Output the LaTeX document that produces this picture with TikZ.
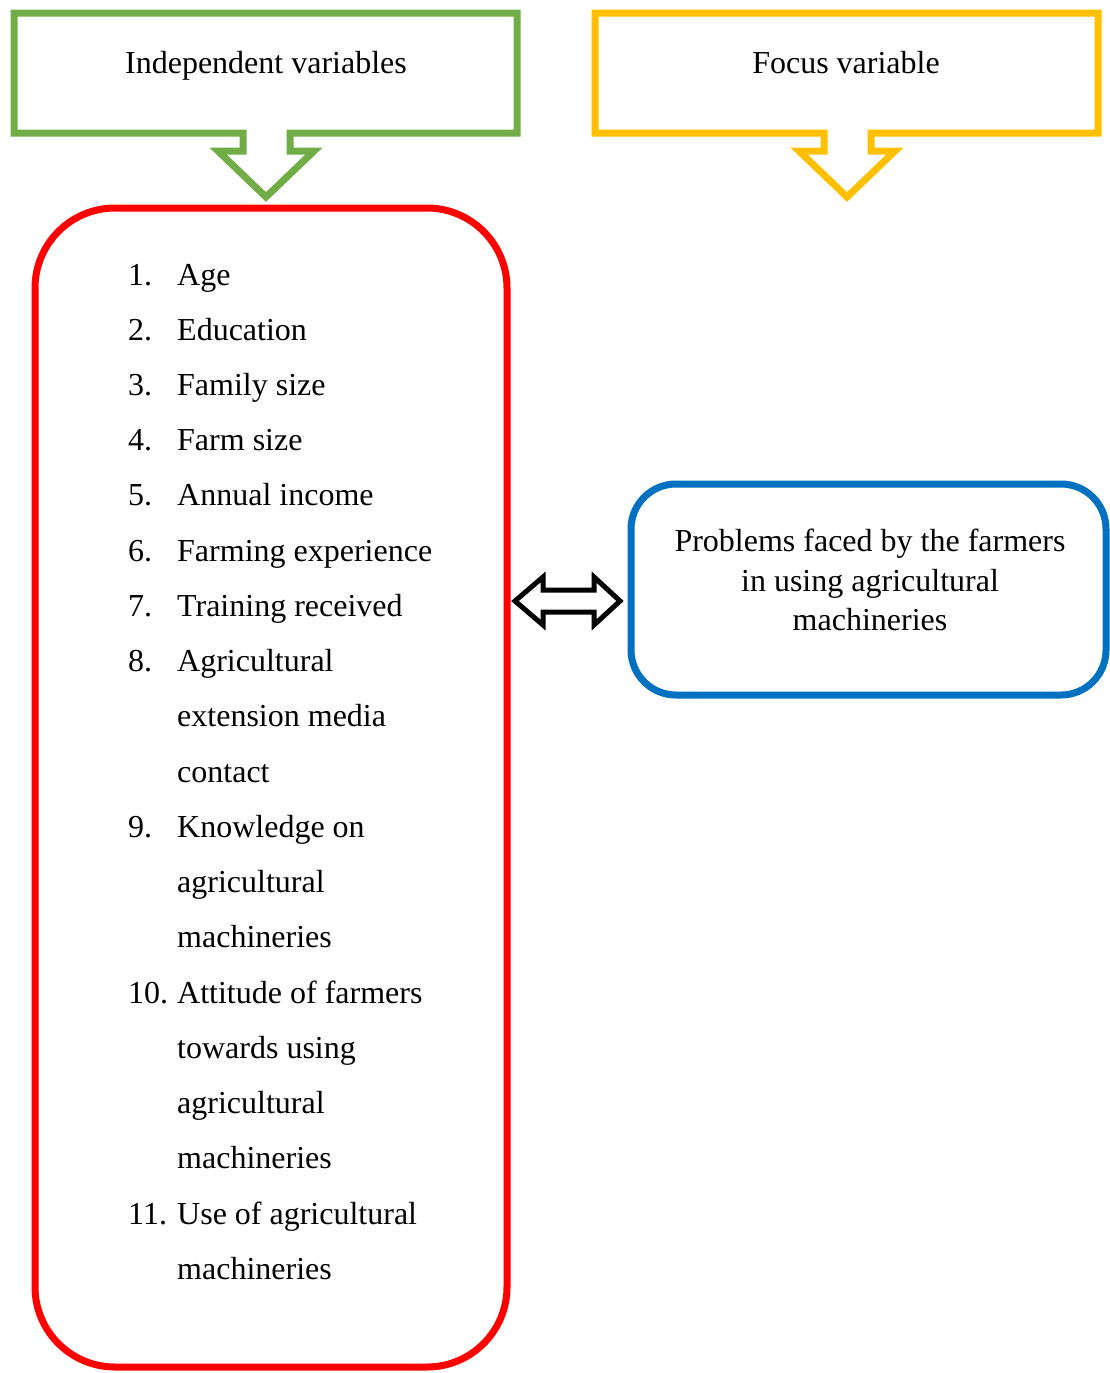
\documentclass[tikz,border=0pt]{standalone}
\usepackage{fontspec}
\setmainfont{Liberation Serif}
\definecolor{cgreen}{HTML}{70AD47}
\definecolor{cyellow}{HTML}{FFC000}
\definecolor{cred}{HTML}{FF0000}
\definecolor{cblue}{HTML}{0070C0}
\begin{document}
\begin{tikzpicture}[x=1pt,y=-1pt,
  lbl/.style={font=\fontsize{32}{39.5}\selectfont, inner sep=0pt, text=black},
  itm/.style={lbl, anchor=base west},
  callout/.style={line width=7pt, miter limit=10},
  bigbox/.style={line width=7pt}]
\useasboundingbox (0,0) rectangle (1110,1373);

% callouts
\draw[callout, draw=cgreen] (14,13) -- (517,13) -- (517,133) -- (290,133) -- (290,151) -- (314,151) -- (266,197) -- (218,151) -- (243,151) -- (243,133) -- (14,133) -- cycle;
\node[lbl, anchor=base] (iv) at (266,73) {Independent variables};

\draw[callout, draw=cyellow] (595,13) -- (1098,13) -- (1098,133) -- (871,133) -- (871,151) -- (895,151) -- (847,197) -- (799,151) -- (824,151) -- (824,133) -- (595,133) -- cycle;
\node[lbl, anchor=base] (fv) at (846,73) {Focus variable};

% boxes
\node[draw=cred, bigbox, rounded corners=80pt, minimum width=472pt, minimum height=1159pt, inner sep=0pt] (box) at (271,787.5) {};
\node[draw=cblue, bigbox, rounded corners=45pt, minimum width=475pt, minimum height=211pt, inner sep=0pt] (prob) at (868.5,589.5) {};
\node[lbl, align=center] (probtxt) at (870,580) {Problems faced by the farmers\\in using agricultural\\machineries};

% double arrow
\coordinate (dl) at (515,601);
\coordinate (dr) at (620,601);
\draw[line width=5pt, fill=white, miter limit=10]
  (dl) -- ++(28,-24) -- ++(0,13) -- ++(51,0) -- ++(0,-13) -- (dr)
  -- ++(-26,24) -- ++(0,-13) -- ++(-51,0) -- ++(0,13) -- cycle;

% list
\foreach \y/\n/\t [count=\i] in {
  275/1./Age, 330/2./Education, 385/3./Family size, 440/4./Farm size,
  495/5./Annual income, 551/6./Farming experience, 606/7./Training received,
  661/8./Agricultural, 716//extension media, 772//contact,
  827/9./Knowledge on, 882//agricultural, 937//machineries,
  993/10./Attitude of farmers, 1048//towards using, 1103//agricultural,
  1158//machineries, 1214/11./Use of agricultural, 1269//machineries}{
  \node[itm] (num\i) at (128,\y+10) {\n};
  \node[itm] (txt\i) at (177,\y+10) {\t};
}
\end{tikzpicture}
\end{document}
